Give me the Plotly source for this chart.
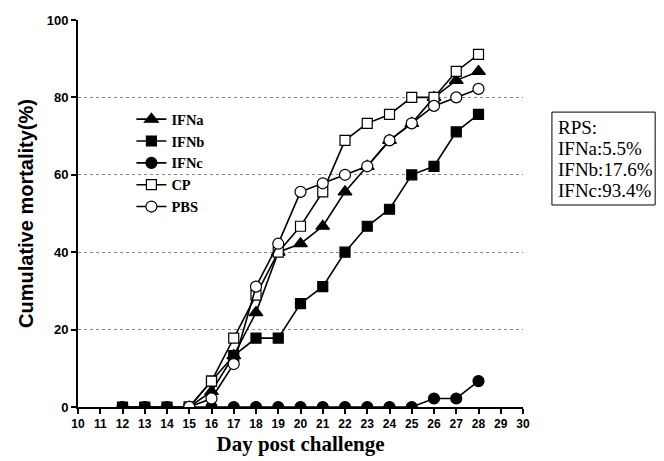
import plotly.graph_objects as go

days_ifna = [15, 16, 17, 18, 19, 20, 21, 22, 23, 24, 25, 26, 27, 28]
ifna = [0, 4.0, 13.3, 24.4, 40.0, 42.2, 46.7, 55.6, 62.2, 68.9, 73.3, 80.0, 84.4, 86.7]

days_ifnb = [12, 13, 14, 15, 16, 17, 18, 19, 20, 21, 22, 23, 24, 25, 26, 27, 28]
ifnb = [0, 0, 0, 0, 6.7, 13.3, 17.8, 17.8, 26.7, 31.1, 40.0, 46.7, 51.1, 60.0, 62.2, 71.1, 75.6]

days_ifnc = [12, 13, 14, 15, 16, 17, 18, 19, 20, 21, 22, 23, 24, 25, 26, 27, 28]
ifnc = [0, 0, 0, 0, 0, 0, 0, 0, 0, 0, 0, 0, 0, 0, 2.2, 2.2, 6.7]

days_cp = [15, 16, 17, 18, 19, 20, 21, 22, 23, 24, 25, 26, 27, 28]
cp = [0, 6.7, 17.8, 28.9, 40.0, 46.7, 55.6, 68.9, 73.3, 75.6, 80.0, 80.0, 86.7, 91.1]

days_pbs = [15, 16, 17, 18, 19, 20, 21, 22, 23, 24, 25, 26, 27, 28]
pbs = [0, 2.2, 11.1, 31.1, 42.2, 55.6, 57.8, 60.0, 62.2, 68.9, 73.3, 77.8, 80.0, 82.2]

x_ticks = list(range(10, 31))
y_ticks = [0, 20, 40, 60, 80, 100]
rps_lines = ["RPS:", "IFNa:5.5%", "IFNb:17.6%", "IFNc:93.4%"]

fig = go.Figure()

def add(name, x, y, symbol, fill, rank, size):
    fig.add_trace(go.Scatter(
        x=x, y=y, name=name, mode="lines+markers",
        line=dict(color="black", width=1.6),
        marker=dict(symbol=symbol, size=size, color=fill,
                    line=dict(color="black", width=1.2)),
        legendrank=rank,
    ))

add("IFNc", days_ifnc, ifnc, "circle", "black", 3, 11)
add("IFNa", days_ifna, ifna, "triangle-up", "black", 1, 12)
add("IFNb", days_ifnb, ifnb, "square", "black", 2, 10)
add("CP", days_cp, cp, "square", "white", 4, 10)
add("PBS", days_pbs, pbs, "circle", "white", 5, 11)

# RPS box
line_y = [0.721, 0.668, 0.614, 0.560]
annotations = []
for txt, yy in zip(rps_lines, line_y):
    annotations.append(dict(
        text=txt, xref="paper", yref="paper",
        x=1.074, y=yy, xanchor="left", yanchor="middle",
        showarrow=False, align="left",
        font=dict(family="Liberation Serif", size=19, color="black"),
    ))

fig.update_layout(
    width=664, height=461,
    margin=dict(l=78, r=141, t=20, b=54, autoexpand=False),
    plot_bgcolor="white", paper_bgcolor="white",
    showlegend=True,
    legend=dict(
        x=0.12, y=0.785, xanchor="left", yanchor="top",
        bgcolor="rgba(255,255,255,0)",
        font=dict(family="Liberation Serif", size=14.5, color="black", weight="bold"),
        itemwidth=30, tracegroupgap=0,
    ),
    xaxis=dict(
        range=[10, 30], tickmode="array", tickvals=x_ticks,
        ticktext=[str(v) for v in x_ticks],
        showline=True, linecolor="black", linewidth=2,
        ticks="outside", ticklen=5, tickwidth=1.5, tickcolor="black",
        showgrid=False, zeroline=False, automargin=False,
        tickfont=dict(family="Liberation Sans", size=12, color="black", weight="bold"),
        title=dict(text="Day post challenge", standoff=6,
                   font=dict(family="Liberation Serif", size=21, color="black", weight="bold")),
    ),
    yaxis=dict(
        range=[0, 100], tickmode="array", tickvals=y_ticks,
        showline=True, linecolor="black", linewidth=2,
        ticks="outside", ticklen=5, tickwidth=1.5, tickcolor="black",
        showgrid=True, gridcolor="#888888", griddash="dot", gridwidth=1,
        zeroline=False, automargin=False,
        tickfont=dict(family="Liberation Sans", size=13, color="black", weight="bold"),
        title=dict(text="Cumulative mortality(%)", standoff=8,
                   font=dict(family="Liberation Sans", size=20, color="black", weight="bold")),
    ),
    shapes=[dict(
        type="rect", xref="paper", yref="paper",
        x0=1.065, x1=1.297, y0=0.522, y1=0.762,
        line=dict(color="black", width=1), fillcolor="white", layer="below",
    )],
    annotations=annotations,
)

fig.write_html("out.html")
